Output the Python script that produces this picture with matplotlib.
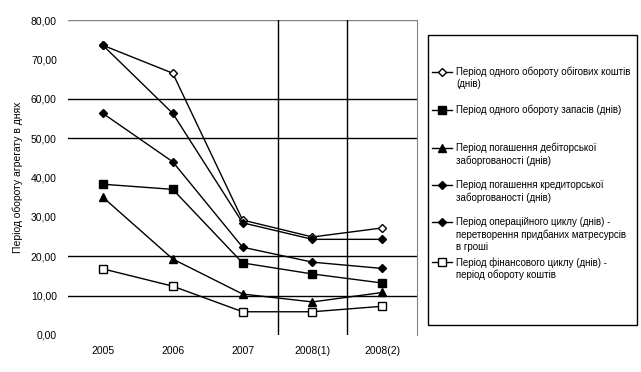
import matplotlib
matplotlib.use('Agg')
import matplotlib.pyplot as plt
from matplotlib.lines import Line2D
from matplotlib.patches import Rectangle

plt.rcParams['font.family'] = ['Liberation Sans', 'DejaVu Sans']

years = ['2005', '2006', '2007', '2008(1)', '2008(2)']

obig = [73.6, 66.5, 29.2, 24.9, 27.2]
zapasy = [38.3, 37.0, 18.3, 15.5, 13.2]
debit = [35.0, 19.3, 10.4, 8.4, 10.8]
kredit = [56.3, 44.0, 22.3, 18.5, 16.9]
oper = [73.6, 56.3, 28.5, 24.3, 24.3]
fin = [16.8, 12.4, 5.9, 5.9, 7.3]

labels = [
    'Період одного обороту обігових коштів\n(днів)',
    'Період одного обороту запасів (днів)',
    'Період погашення дебіторської\nзаборгованості (днів)',
    'Період погашення кредиторської\nзаборгованості (днів)',
    'Період операційного циклу (днів) -\nперетворення придбаних матресурсів\nв гроші',
    'Період фінансового циклу (днів) -\nперіод обороту коштів',
]
series = [obig, zapasy, debit, kredit, oper, fin]
styles = [
    dict(marker='D', mfc='white', ms=4.5),
    dict(marker='s', mfc='black', ms=5.5),
    dict(marker='^', mfc='black', ms=5.5),
    dict(marker='D', mfc='black', ms=4),
    dict(marker='D', mfc='black', ms=4),
    dict(marker='s', mfc='white', ms=5.5),
]

fig = plt.figure(figsize=(6.41, 3.72), dpi=100)
ax = fig.add_axes([0.106, 0.0995, 0.545, 0.8465])

x = list(range(len(years)))
for vals, st in zip(series, styles):
    ax.plot(x, vals, color='black', lw=1, mec='black', zorder=3, **st)

# gridlines as in the original (only some are drawn)
for yv in [10, 20, 50, 60]:
    ax.axhline(yv, color='black', lw=1, zorder=1)
ax.axhline(80, color='#808080', lw=1, zorder=1)
for xv in [2.5, 3.5]:
    ax.axvline(xv, color='black', lw=1, zorder=1)

ax.set_xlim(-0.5, 4.5)
ax.set_ylim(0, 80)
ax.set_xticks(x)
ax.set_xticklabels(years)
ax.set_yticks(range(0, 81, 10))
ax.set_yticklabels([f'{v},00' for v in range(0, 81, 10)])
ax.tick_params(length=0, labelsize=7.5, pad=8)
for s in ['left', 'bottom', 'top']:
    ax.spines[s].set_visible(False)
ax.spines['right'].set_color('#808080')
ax.set_ylabel('Період обороту агрегату в днях', fontsize=7.5, labelpad=6)

# legend box drawn by hand
W, H = 641, 372
fig.patches.append(Rectangle((428 / W, 1 - 325 / H), (637 - 428) / W, (325 - 35) / H,
                             transform=fig.transFigure, fill=False, ec='black', lw=1))
ys = [72, 110, 148, 185, 222, 262]
for lab, st, yp in zip(labels, styles, ys):
    yf = 1 - yp / H
    fig.lines.append(Line2D([432 / W, 452 / W], [yf, yf], transform=fig.transFigure,
                            color='black', lw=1))
    fig.lines.append(Line2D([442 / W], [yf], transform=fig.transFigure,
                            color='black', mec='black', **st))
    fig.text(456 / W, yf + 5 / H, lab, fontsize=7, va='top', ha='left', linespacing=1.25)

fig.savefig('out.png', dpi=100)
